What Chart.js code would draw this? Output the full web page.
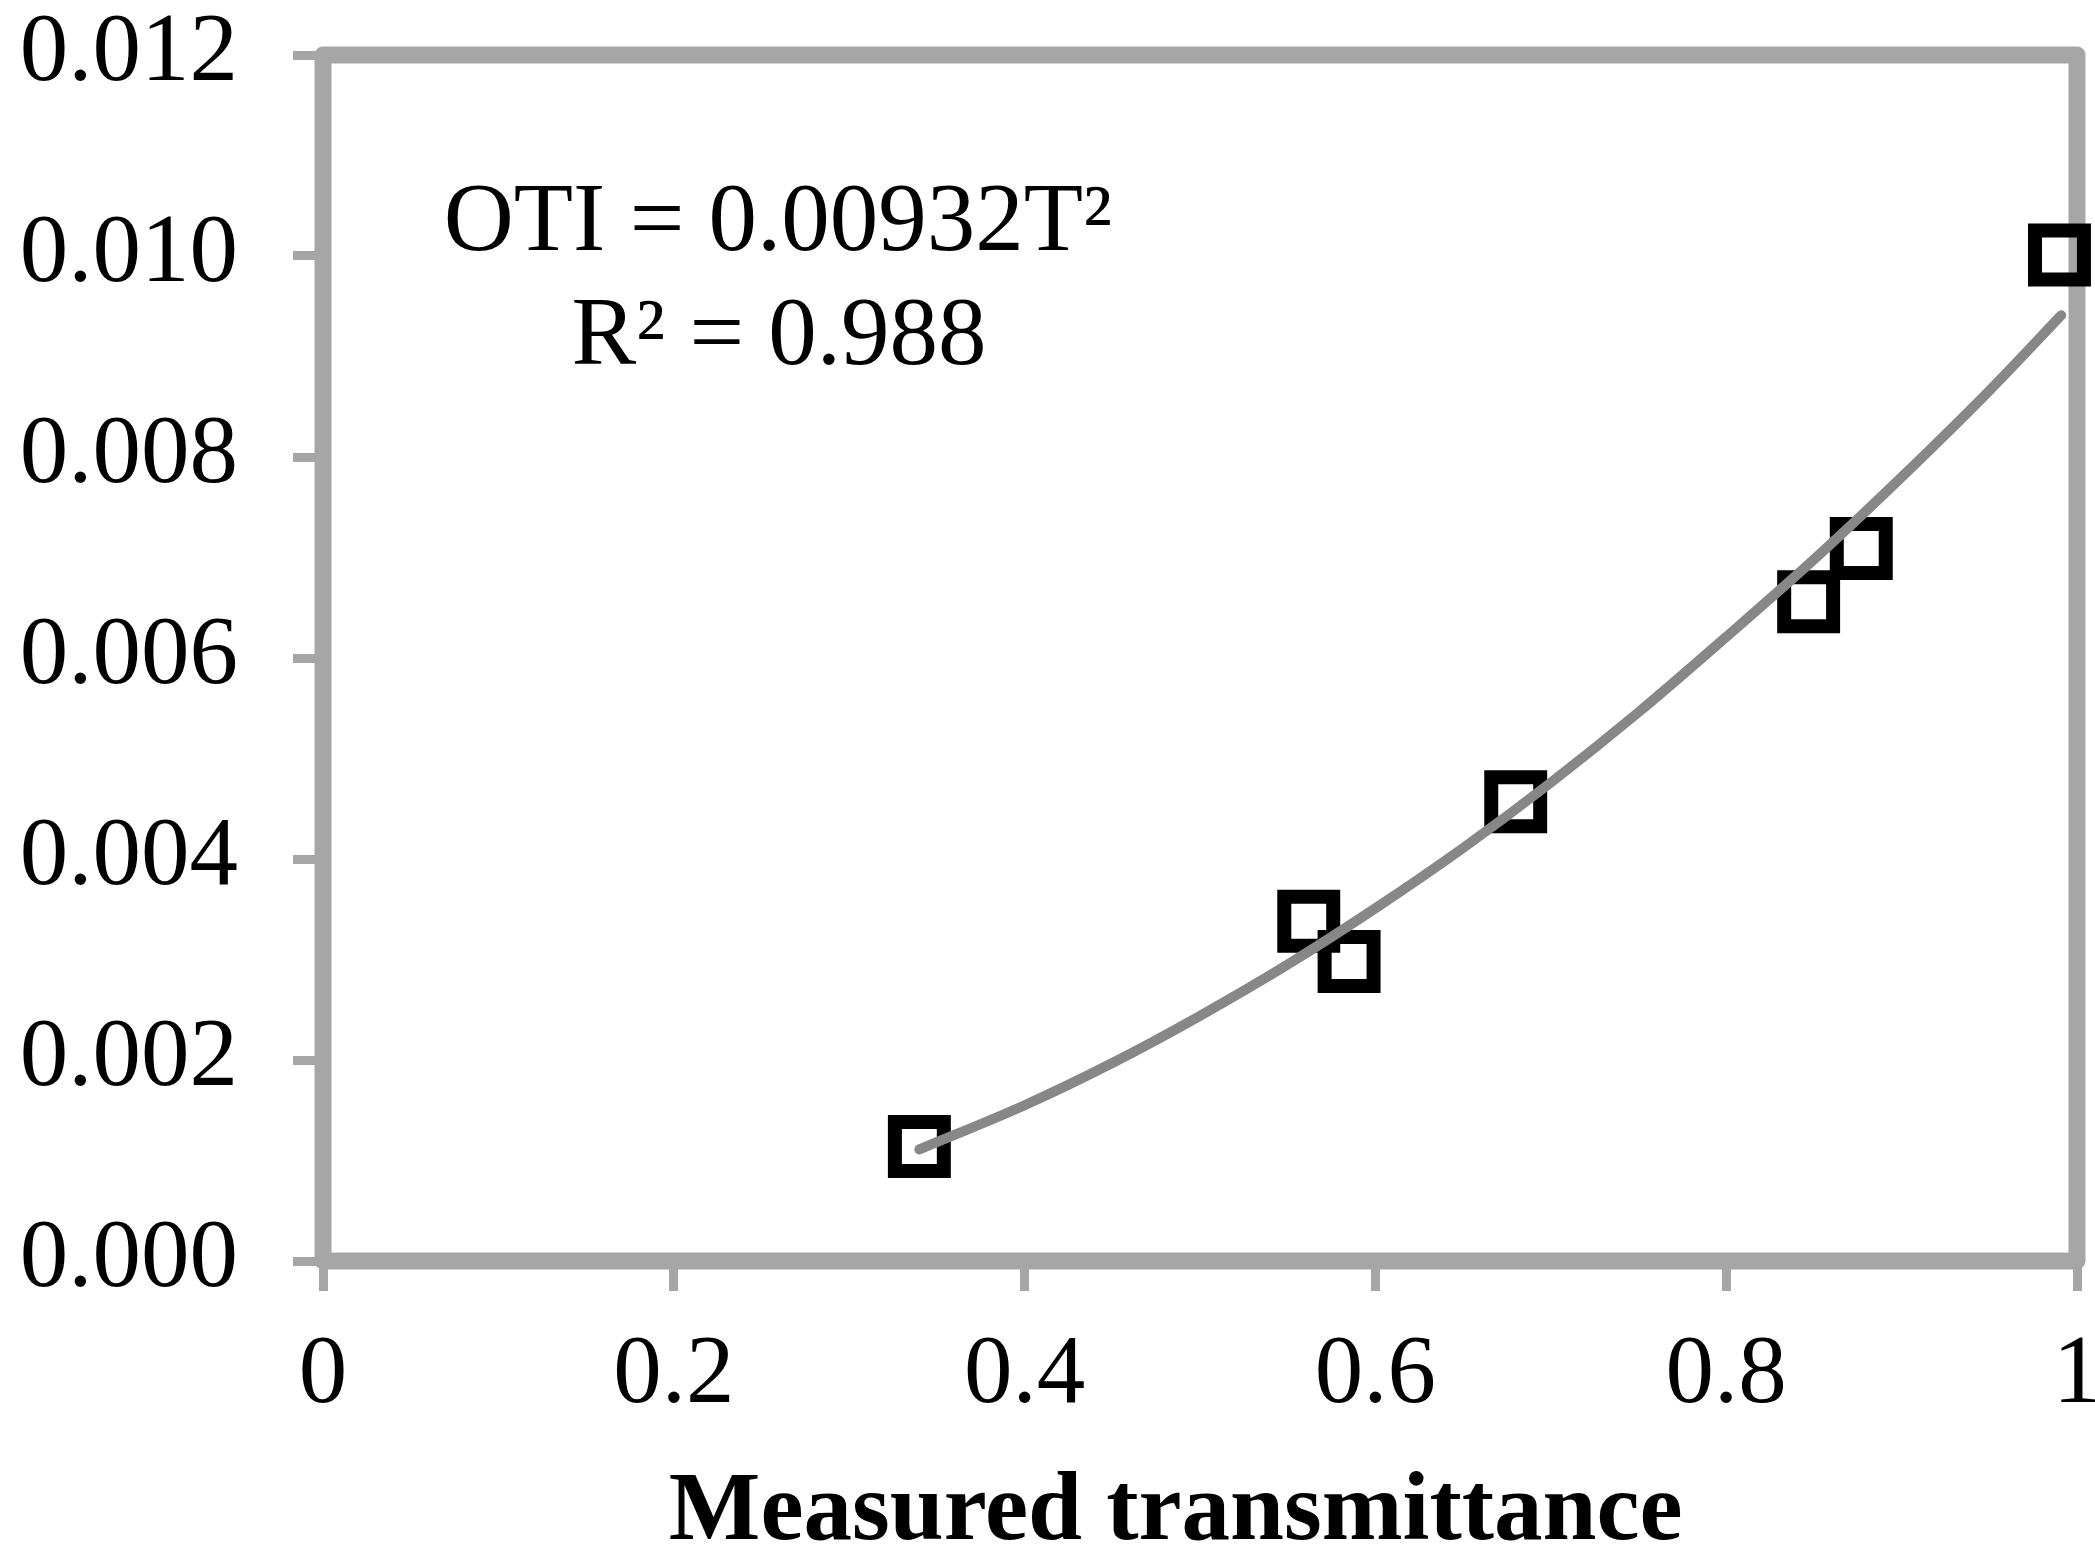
<!DOCTYPE html>
<html>
<head>
<meta charset="utf-8">
<script src="https://cdn.jsdelivr.net/npm/chart.js@4.4.1/dist/chart.umd.min.js"></script>
<style>
  html, body { margin: 0; padding: 0; background: #fff; }
  #wrap { width: 2095px; height: 1549px; position: relative; }
</style>
</head>
<body>
<div id="wrap"><canvas id="otiChart"></canvas></div>
<script>
// points mesurés (transmittance, OTI)
const transmittance = [0.340, 0.562, 0.585, 0.680, 0.847, 0.877, 0.990];
const oti = [0.00114, 0.00338, 0.00298, 0.00457, 0.00656, 0.00709, 0.01001];

// courbe de tendance
const fitT = [0.340, 0.40, 0.45, 0.50, 0.55, 0.60, 0.65, 0.70, 0.75, 0.80, 0.85, 0.90, 0.95, 0.991];
const fitOti = [0.00111, 0.00155, 0.00197, 0.00244, 0.00295, 0.00351, 0.00411, 0.00476, 0.00546, 0.00621, 0.00698, 0.00780, 0.00866, 0.00941];

// graduations
const xTickLabels = ["0", "0.2", "0.4", "0.6", "0.8", "1"];
const yTickLabels = ["0.000", "0.002", "0.004", "0.006", "0.008", "0.010", "0.012"];

const equationLines = ["OTI = 0.00932T\u00b2", "R\u00b2 = 0.988"];

const SERIF = '"Liberation Serif", "Times New Roman", serif';
const FRAME = "#a6a6a6";

// cadre gris autour de la zone de tracé (sous les marqueurs)
const framePlugin = {
  id: "frame",
  beforeDatasetsDraw(chart) {
    const { ctx, chartArea: a } = chart;
    ctx.save();
    ctx.strokeStyle = FRAME;
    ctx.lineWidth = 17;
    ctx.lineJoin = "round";
    ctx.strokeRect(a.left, a.top, a.right - a.left, a.bottom - a.top);
    ctx.restore();
  }
};

// équation de la tendance
const equationPlugin = {
  id: "equation",
  afterDatasetsDraw(chart) {
    const { ctx } = chart;
    ctx.save();
    ctx.fillStyle = "#000";
    ctx.font = "97px " + SERIF;
    ctx.textAlign = "center";
    ctx.textBaseline = "alphabetic";
    ctx.fillText(equationLines[0], 778, 250);
    ctx.fillText(equationLines[1], 779, 364);
    ctx.restore();
  }
};

const tickGrid = {
  display: true,
  drawOnChartArea: false,
  drawTicks: true,
  tickLength: 30,
  tickWidth: 9,
  tickColor: FRAME
};

new Chart(document.getElementById("otiChart"), {
  type: "scatter",
  data: {
    datasets: [
      {
        // tendance au-dessus des marqueurs
        type: "line",
        data: fitT.map((t, i) => ({ x: t, y: fitOti[i] })),
        borderColor: "#878787",
        borderWidth: 10,
        borderCapStyle: "round",
        pointRadius: 0,
        cubicInterpolationMode: "monotone",
        fill: false,
        order: 0
      },
      {
        data: transmittance.map((t, i) => ({ x: t, y: oti[i] })),
        pointStyle: "rect",
        pointRadius: 34.6,
        pointBorderWidth: 14,
        pointBorderColor: "#000",
        pointBackgroundColor: "rgba(0,0,0,0)",
        clip: false,
        order: 1
      }
    ]
  },
  options: {
    responsive: true,
    maintainAspectRatio: false,
    animation: false,
    devicePixelRatio: 1,
    layout: {
      autoPadding: false,
      padding: { left: 23, right: 18, top: 55, bottom: 0 }
    },
    plugins: {
      legend: { display: false },
      tooltip: { enabled: false }
    },
    scales: {
      x: {
        type: "linear",
        min: 0,
        max: 1,
        ticks: {
          stepSize: 0.2,
          padding: 27,
          color: "#000",
          font: { family: SERIF, size: 97 },
          maxRotation: 0,
          callback: (v, i) => xTickLabels[i]
        },
        grid: tickGrid,
        border: { display: false },
        title: {
          display: true,
          text: "Measured transmittance\u00a0\u00a0",
          color: "#000",
          font: { family: SERIF, size: 97, weight: "bold", lineHeight: 0.72 },
          padding: 0
        },
        afterFit(scale) {
          scale.height = 288;
          scale.paddingLeft = 0;
          scale.paddingRight = 0;
        }
      },
      y: {
        type: "linear",
        min: 0,
        max: 0.012,
        ticks: {
          stepSize: 0.002,
          padding: 55,
          color: "#000",
          font: { family: SERIF, size: 97 },
          callback: (v, i) => yTickLabels[i]
        },
        grid: tickGrid,
        border: { display: false },
        afterFit(scale) {
          scale.width = 300;
          scale.paddingTop = 0;
          scale.paddingBottom = 0;
        }
      }
    }
  },
  plugins: [framePlugin, equationPlugin]
});
</script>
</body>
</html>
